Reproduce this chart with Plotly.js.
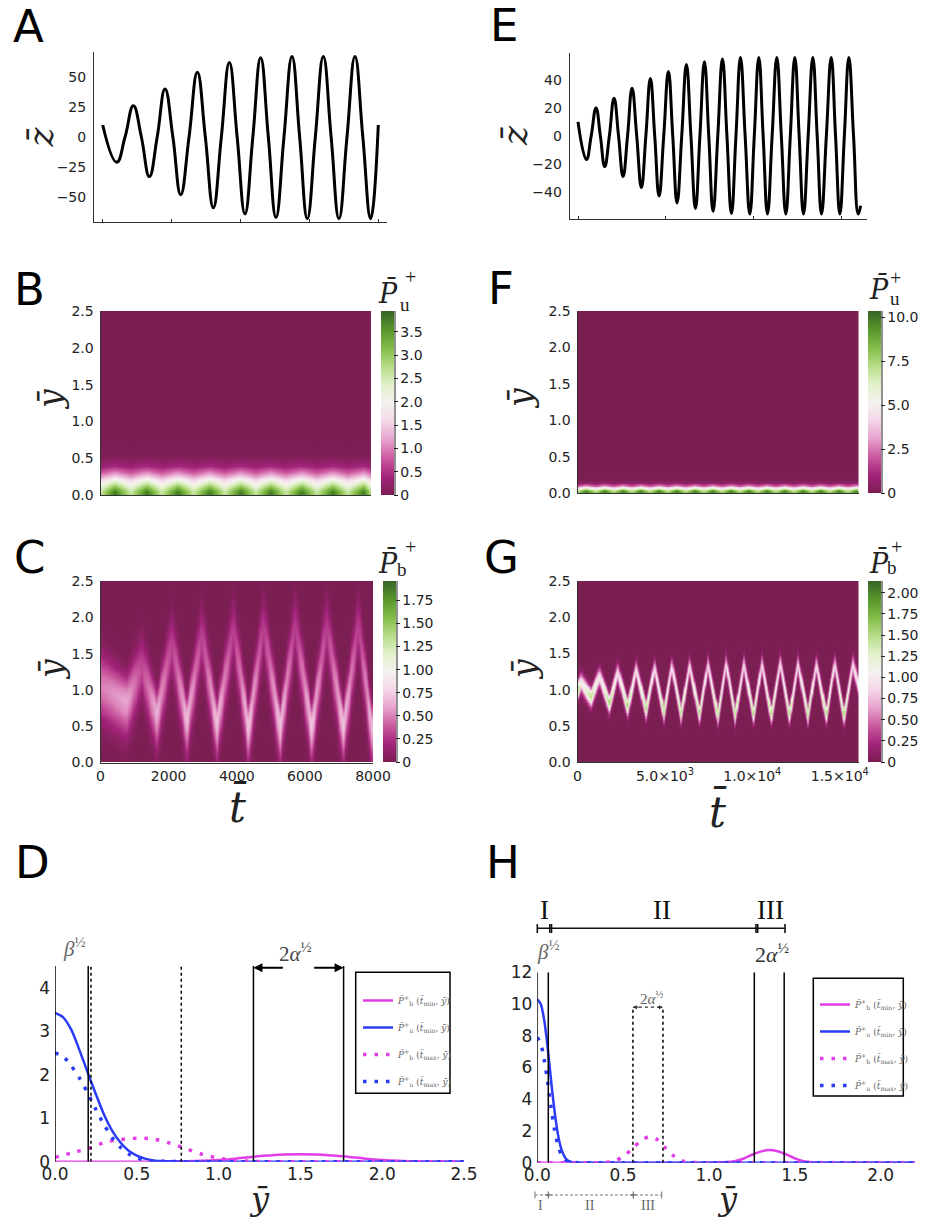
<!DOCTYPE html>
<html><head><meta charset="utf-8">
<script src="https://cdn.plot.ly/plotly-3.0.1.min.js"></script>
<style>html,body{margin:0;padding:0;background:#fff}#fig{width:936px;height:1220px}</style>
</head><body><div id="fig"></div>
<script>
const SANS = 'DejaVu Sans, Arial, sans-serif';
const SERIF = 'Liberation Serif, DejaVu Serif, serif';
const MATH = 'DejaVu Serif, serif';

// ---------- Panel A : z(t), extrema and zero crossings
const tA = [0,406,648,890,1122,1354,1582,1809,2037,2264,2506,2747,2979,3211,3444,3676,3903,4130,4358,4585,4808,5030,5262,5494,5717,5939,6172,6404,6631,6858,7091,7323,7551,7778,8000];
const zA = [10,-21,0,26,0,-33,0,40,0,-48,0,54,0,-59,0,62,0,-64,0,66,0,-67,0,67,0,-68,0,67,0,-68,0,67,0,-68,10];
const zTicksA = [-50,-25,0,25,50];
const zTickTextA = ['\u221250','\u221225','0','25','50'];

// ---------- Panel E
const tE = [0,475,751,1027,1274,1521,1787,2053,2310,2567,2823,3080,3346,3612,3868,4125,4372,4620,4886,5152,5399,5646,5912,6179,6435,6692,6948,7205,7452,7700,7966,8232,8488,8745,9002,9259,9525,9791,10047,10304,10551,10798,11064,11331,11587,11844,12100,12357,12604,12852,13118,13384,13631,13878,14154,14430,14677,14924,15180,15437,15703,15970,16103];
const zE = [10,-17,0,20,0,-22,0,27,0,-29,0,34,0,-37,0,41,0,-43,0,46,0,-48,0,51,0,-52,0,53,0,-54,0,55,0,-55.5,0,56,0,-56,0,56,0,-56,0,56,0,-56,0,56,0,-56,0,56,0,-56,0,56,0,-56,0,56,0,-56,-50];
const zTicksE = [-40,-20,0,20,40];
const zTickTextE = ['\u221240','\u221220','0','20','40'];

// ---------- Panel B : P_u heatmap (blob columns / gap columns, vertical profiles)
const tBlobB = [406,1354,2264,3211,4130,5030,5939,6858,7778];
const tGapB  = [0,880,1809,2737,3670,4580,5485,6400,7318,8000];
const yProfB = [0,0.05,0.1,0.15,0.2,0.25,0.3,0.35,0.4,0.45,0.5,0.55,0.6,0.7,0.8,2.5];
const blobProfB = [3.85,3.7,3.3,2.75,2.2,1.65,1.15,0.75,0.45,0.26,0.14,0.07,0.03,0.01,0,0];
const gapProfB  = [2.65,2.55,2.3,1.95,1.6,1.2,0.82,0.52,0.31,0.17,0.09,0.04,0.02,0.005,0,0];
const zmaxB = 3.95;
const cbTicksB = [0,0.5,1,1.5,2,2.5,3,3.5];
const cbTextB = ['0','0.5','1.0','1.5','2.0','2.5','3.0','3.5'];

// ---------- Panel F
const tBlobF = [475,1521,2567,3612,4620,5646,6692,7700,8745,9791,10798,11844,12852,13878,14924,15970];
const tGapF  = [0,1027,2053,3080,4125,5152,6179,7205,8232,9259,10304,11331,12357,13384,14430,15437,16100];
const yProfF = [0,0.02,0.04,0.06,0.08,0.1,0.12,0.14,0.16,0.18,0.2,0.25,2.5];
const blobProfF = [10.3,10.0,9.0,7.3,5.2,3.3,1.8,0.85,0.35,0.12,0.04,0,0];
const gapProfF  = [7.9,7.5,6.5,5.1,3.5,2.1,1.1,0.5,0.2,0.07,0.02,0,0];
const zmaxF = 10.35;
const cbTicksF = [0,2.5,5,7.5,10];
const cbTextF = ['0','2.5','5.0','7.5','10.0'];

// ---------- Panel C : P_b ridge (zig-zag vertices)
const tVertC   = [0,763,1203,1643,2083,2523,2963,3403,3892,4332,4773,5262,5702,6191,6631,7120,7560,7951,8000];
const yVertC   = [1.05,0.85,1.3,0.68,1.62,0.6,1.72,0.55,1.8,0.5,1.85,0.5,1.85,0.5,1.85,0.5,1.85,0.5,0.55];
const ampVertC = [0.5,0.62,0.33,0.66,0.3,0.7,0.3,0.72,0.28,0.74,0.28,0.74,0.28,0.74,0.28,0.74,0.28,0.7,0.68];
const wDownC   = [0.3,0.32,0.25,0.32,0.25,0.32,0.25,0.32,0.25,0.32,0.25,0.32,0.25,0.32,0.25,0.32,0.25,0.32,0.3];
const wUpC     = [0.3,0.22,0.3,0.18,0.3,0.18,0.3,0.18,0.3,0.18,0.3,0.18,0.3,0.18,0.3,0.18,0.3,0.18,0.2];
const zmaxC = 1.96;
const cbTicksC = [0,0.25,0.5,0.75,1,1.25,1.5,1.75];
const cbTextC = ['0','0.25','0.50','0.75','1.00','1.25','1.50','1.75'];

// ---------- Panel G
const tVertG   = [0,191,763,1240,1813,2290,2863,3340,3912,4389,4924,5382,5916,6393,6966,7443,8015,8492,9008,9504,10057,10534,11069,11584,12118,12595,13168,13645,14218,14695,15229,15744,16100];
const yVertG   = [1.0,1.1,0.9,1.18,0.82,1.24,0.76,1.28,0.72,1.3,0.69,1.32,0.67,1.33,0.66,1.34,0.65,1.35,0.65,1.35,0.65,1.35,0.65,1.35,0.65,1.35,0.65,1.35,0.65,1.35,0.65,1.35,1.0];
const ampVertG = [1.7,1.0,1.55,0.95,1.6,0.9,1.6,0.9,1.6,0.88,1.6,0.88,1.6,0.88,1.6,0.88,1.6,0.88,1.6,0.88,1.6,0.88,1.6,0.88,1.6,0.88,1.6,0.88,1.6,0.88,1.6,0.88,1.2];
const wDownG   = [0.08,0.08,0.09,0.08,0.09,0.08,0.09,0.08,0.09,0.08,0.09,0.08,0.09,0.08,0.09,0.08,0.09,0.08,0.09,0.08,0.09,0.08,0.09,0.08,0.09,0.08,0.09,0.08,0.09,0.08,0.09,0.08,0.08];
const wUpG     = [0.08,0.09,0.07,0.09,0.07,0.09,0.07,0.09,0.07,0.09,0.07,0.09,0.07,0.09,0.07,0.09,0.07,0.09,0.07,0.09,0.07,0.09,0.07,0.09,0.07,0.09,0.07,0.09,0.07,0.09,0.07,0.09,0.08];
const zmaxG = 2.14;
const cbTicksG = [0,0.25,0.5,0.75,1,1.25,1.5,1.75,2];
const cbTextG = ['0','0.25','0.50','0.75','1.00','1.25','1.50','1.75','2.00'];

// cross-section shape of the ridge (offset in widths -> relative value)
const profOff = [0,0.5,1,1.5,2,2.5,3,4];
const profVal = [1,0.88,0.61,0.32,0.14,0.044,0.011,0];

// ---------- Panel D profiles
const xPuMinD = [0,0.05,0.1,0.15,0.2,0.25,0.3,0.35,0.4,0.45,0.5,0.55,0.6,0.7,0.8,1.0,1.5,2.0,2.5];
const PuMinD  = [3.42,3.32,3.03,2.56,2.05,1.55,1.08,0.71,0.44,0.25,0.14,0.07,0.03,0.01,0,0,0,0,0];
const xPuMaxD = [0,0.05,0.1,0.15,0.2,0.25,0.3,0.35,0.4,0.45,0.5,0.55,0.6,0.7,0.8,1.0,1.5,2.0,2.5];
const PuMaxD  = [2.5,2.42,2.2,1.92,1.58,1.2,0.85,0.55,0.33,0.18,0.09,0.04,0.02,0.005,0,0,0,0,0];
const xPbMaxD = [0,0.1,0.2,0.3,0.4,0.5,0.6,0.7,0.8,0.9,1.0,1.1,1.2,1.3,1.5,2.0,2.5];
const PbMaxD  = [0.1,0.2,0.3,0.44,0.51,0.54,0.52,0.43,0.3,0.17,0.08,0.03,0.01,0,0,0,0];
const xPbMinD = [0,0.5,0.7,0.8,0.9,1.0,1.1,1.2,1.3,1.4,1.5,1.6,1.7,1.8,1.9,2.0,2.1,2.2,2.3,2.5];
const PbMinD  = [0,0,0.005,0.01,0.02,0.04,0.07,0.11,0.14,0.165,0.17,0.165,0.14,0.11,0.07,0.04,0.02,0.01,0,0];
const solidLinesD = [0,0.203,1.213,1.764];
const dottedLinesD = [0.22,0.772];

// ---------- Panel H profiles
const xPuH = [0,0.02,0.04,0.06,0.08,0.1,0.12,0.14,0.16,0.18,0.2,0.25,0.5,1,1.5,2.2];
const PuMinH = [10.3,10.0,9.0,7.3,5.2,3.3,1.8,0.85,0.35,0.12,0.04,0,0,0,0,0];
const PuMaxH = [7.9,7.5,6.5,5.1,3.5,2.1,1.1,0.5,0.2,0.07,0.02,0,0,0,0,0];
const xPbMaxH = [0,0.3,0.4,0.45,0.5,0.55,0.6,0.65,0.7,0.75,0.8,0.85,0.9,1.0,1.5,2.2];
const PbMaxH  = [0,0,0.02,0.12,0.38,0.85,1.35,1.63,1.45,0.9,0.38,0.1,0.02,0,0,0];
const xPbMinH = [0,1.0,1.1,1.15,1.2,1.25,1.3,1.35,1.4,1.45,1.5,1.55,1.6,1.7,2.2];
const PbMinH  = [0,0,0.04,0.1,0.25,0.5,0.7,0.8,0.72,0.52,0.27,0.1,0.03,0,0];
const solidLinesH = [0,0.064,1.264,1.438];
const dottedLinesH = [0.557,0.732];

// ================= helpers =================
const W = 936, H = 1220;
const px = x => x / W;
const py = y => 1 - y / H;
function lerp(xs, vs, x) {
  if (x <= xs[0]) return vs[0];
  for (let i = 1; i < xs.length; i++) {
    if (x <= xs[i]) { const f = (x - xs[i-1]) / (xs[i] - xs[i-1]); return vs[i-1] + f * (vs[i] - vs[i-1]); }
  }
  return vs[vs.length - 1];
}
function columnTable(tBlob, tGap, yProf, blobProf, gapProf) {
  const cols = tBlob.map(t => [t, blobProf]).concat(tGap.map(t => [t, gapProf])).sort((a, b) => a[0] - b[0]);
  const x = cols.map(c => c[0]);
  const z = yProf.map((_, j) => cols.map(c => c[1][j]));
  return {x, y: yProf, z};
}
function ridgeTable(tEnd, dt, dy, tV, yV, aV, wD, wU) {
  const x = [], y = [];
  for (let t = 0; t <= tEnd + 1e-9; t += dt) x.push(t);
  for (let v = 0; v <= 2.5 + 1e-9; v += dy) y.push(+v.toFixed(4));
  const c = x.map(t => lerp(tV, yV, t)), a = x.map(t => lerp(tV, aV, t));
  const wd = x.map(t => lerp(tV, wD, t)), wu = x.map(t => lerp(tV, wU, t));
  const z = y.map(yy => x.map((t, i) => {
    const d = Math.abs(yy - c[i]) / (yy < c[i] ? wd[i] : wu[i]);
    return a[i] * lerp(profOff, profVal, d);
  }));
  return {x, y, z};
}
const piyg = [[0,'#7b1e52'],[0.1,'#a3247b'],[0.2,'#cb5a9f'],[0.3,'#e6a2cc'],[0.4,'#f5d7e9'],[0.5,'#f4f2ee'],[0.6,'#e1f0c9'],[0.7,'#b6dc86'],[0.8,'#82bc48'],[0.9,'#57952b'],[1,'#376428']];

const tickFont = {family: SANS, size: 14, color: '#222'};
const base = {showgrid: false, zeroline: false, fixedrange: true, tickfont: tickFont};

function cbar(left, top, bottom, ticks, text) {
  return {x: px(left), xanchor: 'left', y: py(bottom), yanchor: 'bottom', len: (bottom - top) / H, lenmode: 'fraction',
    thickness: 13, thicknessmode: 'pixels', outlinewidth: 0, xpad: 0, ypad: 0, ticks: 'outside', ticklen: 4,
    tickcolor: '#222', tickwidth: 1, tickvals: ticks, ticktext: text, tickfont: tickFont};
}

const magenta = '#e03ee6', blue = '#2a3cf4';
const traces = [];
traces.push({type: 'scatter', mode: 'lines', x: tA, y: zA, xaxis: 'x', yaxis: 'y', line: {color: '#000', width: 3, shape: 'spline', smoothing: 1.3}, showlegend: false, hoverinfo: 'skip'});
traces.push({type: 'scatter', mode: 'lines', x: tE, y: zE, xaxis: 'x5', yaxis: 'y5', line: {color: '#000', width: 3, shape: 'spline', smoothing: 1.3}, showlegend: false, hoverinfo: 'skip'});

const hB = columnTable(tBlobB, tGapB, yProfB, blobProfB, gapProfB);
traces.push({type: 'heatmap', x: hB.x, y: hB.y, z: hB.z, zsmooth: 'best', colorscale: piyg, zmin: 0, zmax: zmaxB, xaxis: 'x2', yaxis: 'y2', colorbar: cbar(381, 311, 495, cbTicksB, cbTextB), hoverinfo: 'skip'});
const hF = columnTable(tBlobF, tGapF, yProfF, blobProfF, gapProfF);
traces.push({type: 'heatmap', x: hF.x, y: hF.y, z: hF.z, zsmooth: 'best', colorscale: piyg, zmin: 0, zmax: zmaxF, xaxis: 'x6', yaxis: 'y6', colorbar: cbar(868, 311, 493, cbTicksF, cbTextF), hoverinfo: 'skip'});
const hC = ridgeTable(8000, 25, 0.02, tVertC, yVertC, ampVertC, wDownC, wUpC);
traces.push({type: 'heatmap', x: hC.x, y: hC.y, z: hC.z, zsmooth: 'best', colorscale: piyg, zmin: 0, zmax: zmaxC, xaxis: 'x3', yaxis: 'y3', colorbar: cbar(383, 581, 762, cbTicksC, cbTextC), hoverinfo: 'skip'});
const hG = ridgeTable(16100, 30, 0.01, tVertG, yVertG, ampVertG, wDownG, wUpG);
traces.push({type: 'heatmap', x: hG.x, y: hG.y, z: hG.z, zsmooth: 'best', colorscale: piyg, zmin: 0, zmax: zmaxG, xaxis: 'x7', yaxis: 'y7', colorbar: cbar(868, 581, 762, cbTicksG, cbTextG), hoverinfo: 'skip'});

const nm = (s, t) => '<i>P\u0304</i><sup>+</sup><sub>' + s + '</sub> (<i>t\u0304</i><sub>' + t + '</sub>, <i>y\u0304</i>)';
function profTraces(xa, ya, lg, d) {
  return [
    {x: d[0][0], y: d[0][1], name: nm('b', 'min'), line: {color: magenta, width: 2.5, shape: 'spline', smoothing: 0.8}},
    {x: d[1][0], y: d[1][1], name: nm('u', 'min'), line: {color: blue, width: 2.5, shape: 'spline', smoothing: 0.8}},
    {x: d[2][0], y: d[2][1], name: nm('b', 'max'), line: {color: magenta, width: 3.5, dash: '3.5px,8px', shape: 'spline', smoothing: 0.8}},
    {x: d[3][0], y: d[3][1], name: nm('u', 'max'), line: {color: blue, width: 3.5, dash: '3.5px,8px', shape: 'spline', smoothing: 0.8}}
  ].map((t, i) => Object.assign(t, {type: 'scatter', mode: 'lines', xaxis: xa, yaxis: ya, legend: lg, legendgroup: lg + i, hoverinfo: 'skip'}));
}
profTraces('x4', 'y4', 'legend', [[xPbMinD, PbMinD], [xPuMinD, PuMinD], [xPbMaxD, PbMaxD], [xPuMaxD, PuMaxD]]).forEach(t => traces.push(t));
profTraces('x8', 'y8', 'legend2', [[xPbMinH, PbMinH], [xPuH, PuMinH], [xPbMaxH, PbMaxH], [xPuH, PuMaxH]]).forEach(t => traces.push(t));

// ================= layout =================
const layout = {
  width: W, height: H, margin: {l: 0, r: 0, t: 0, b: 0}, paper_bgcolor: '#fff', plot_bgcolor: 'rgba(0,0,0,0)',
  font: {family: SANS, color: '#222'}, showlegend: true,
  xaxis: Object.assign({}, base, {domain: [px(94.3), px(386.7)], range: [-244, 8244], anchor: 'y', showline: true, linecolor: '#333', linewidth: 1.3, ticks: 'inside', ticklen: 3, tickcolor: '#333', tickvals: [0, 2000, 4000, 6000, 8000], showticklabels: false}),
  yaxis: Object.assign({}, base, {domain: [py(222), py(52)], range: [-70.8, 70.8], anchor: 'x', showline: true, linecolor: '#333', linewidth: 1.3, ticks: '', tickvals: zTicksA, ticktext: zTickTextA, ticklabelstandoff: 4}),
  xaxis5: Object.assign({}, base, {domain: [px(570), px(867)], range: [-456, 16470], anchor: 'y5', showline: true, linecolor: '#333', linewidth: 1.3, ticks: 'inside', ticklen: 3, tickcolor: '#333', tickvals: [0, 5000, 10000, 15000], showticklabels: false}),
  yaxis5: Object.assign({}, base, {domain: [py(219), py(53)], range: [-59.5, 59.3], anchor: 'x5', showline: true, linecolor: '#333', linewidth: 1.3, ticks: '', tickvals: zTicksE, ticktext: zTickTextE, ticklabelstandoff: 4}),
  xaxis2: Object.assign({}, base, {domain: [px(100.5), px(371)], range: [0, 8000], anchor: 'y2', showline: true, linecolor: '#333', linewidth: 1, ticks: '', showticklabels: false}),
  yaxis2: Object.assign({}, base, {domain: [py(495), py(311)], range: [0, 2.5], anchor: 'x2', showline: true, linecolor: '#333', linewidth: 1, ticks: '', tickvals: [0, 0.5, 1, 1.5, 2, 2.5], ticktext: ['0.0', '0.5', '1.0', '1.5', '2.0', '2.5'], ticklabelstandoff: 3}),
  xaxis6: Object.assign({}, base, {domain: [px(577.5), px(859)], range: [0, 16100], anchor: 'y6', showline: true, linecolor: '#333', linewidth: 1, ticks: '', showticklabels: false}),
  yaxis6: Object.assign({}, base, {domain: [py(493), py(311)], range: [0, 2.5], anchor: 'x6', showline: true, linecolor: '#333', linewidth: 1, ticks: '', tickvals: [0, 0.5, 1, 1.5, 2, 2.5], ticktext: ['0.0', '0.5', '1.0', '1.5', '2.0', '2.5'], ticklabelstandoff: 3}),
  xaxis3: Object.assign({}, base, {domain: [px(100.5), px(373)], range: [0, 8000], anchor: 'y3', showline: true, linecolor: '#333', linewidth: 1, ticks: '', tickvals: [0, 2000, 4000, 6000, 8000], ticktext: ['0', '2000', '4000', '6000', '8000'], ticklabelstandoff: 1}),
  yaxis3: Object.assign({}, base, {domain: [py(762.5), py(581)], range: [0, 2.5], anchor: 'x3', showline: true, linecolor: '#333', linewidth: 1, ticks: '', tickvals: [0, 0.5, 1, 1.5, 2, 2.5], ticktext: ['0.0', '0.5', '1.0', '1.5', '2.0', '2.5'], ticklabelstandoff: 3}),
  xaxis7: Object.assign({}, base, {domain: [px(577.5), px(859)], range: [0, 16100], anchor: 'y7', showline: true, linecolor: '#333', linewidth: 1, ticks: '', tickvals: [0, 5000, 10000, 15000], ticktext: ['0', '5.0\u00d710<sup>3</sup>', '1.0\u00d710<sup>4</sup>', '1.5\u00d710<sup>4</sup>'], ticklabelstandoff: 1}),
  yaxis7: Object.assign({}, base, {domain: [py(762), py(581)], range: [0, 2.5], anchor: 'x7', showline: true, linecolor: '#333', linewidth: 1, ticks: '', tickvals: [0, 0.5, 1, 1.5, 2, 2.5], ticktext: ['0.0', '0.5', '1.0', '1.5', '2.0', '2.5'], ticklabelstandoff: 3}),
  xaxis4: Object.assign({}, base, {domain: [px(55), px(464)], range: [0, 2.5], anchor: 'y4', showline: false, ticks: '', tickvals: [0, 0.5, 1, 1.5, 2, 2.5], ticktext: ['0.0', '0.5', '1.0', '1.5', '2.0', '2.5'], tickfont: {family: SANS, size: 17, color: '#222'}, ticklabelstandoff: 0}),
  yaxis4: Object.assign({}, base, {domain: [py(1161.7), py(966)], range: [0, 4.5], anchor: 'x4', showline: false, ticks: '', tickvals: [0, 1, 2, 3, 4], ticktext: ['0', '1', '2', '3', '4'], tickfont: {family: SANS, size: 17, color: '#222'}, ticklabelstandoff: 4}),
  xaxis8: Object.assign({}, base, {domain: [px(537.3), px(915)], range: [0, 2.2], anchor: 'y8', showline: false, ticks: '', tickvals: [0, 0.5, 1, 1.5, 2], ticktext: ['0.0', '0.5', '1.0', '1.5', '2.0'], tickfont: {family: SANS, size: 17, color: '#222'}, ticklabelstandoff: 0}),
  yaxis8: Object.assign({}, base, {domain: [py(1162.7), py(972.3)], range: [0, 12], anchor: 'x8', showline: false, ticks: '', tickvals: [0, 2, 4, 6, 8, 10, 12], ticktext: ['0', '2', '4', '6', '8', '10', '12'], tickfont: {family: SANS, size: 17, color: '#222'}, ticklabelstandoff: 4}),
  legend: {x: px(358), y: py(986), xanchor: 'left', yanchor: 'top', bgcolor: 'rgba(0,0,0,0)', borderwidth: 0, font: {family: MATH, size: 9, color: '#666'}, traceorder: 'grouped', tracegroupgap: 8, itemwidth: 30},
  legend2: {x: px(815), y: py(990), xanchor: 'left', yanchor: 'top', bgcolor: 'rgba(0,0,0,0)', borderwidth: 0, font: {family: MATH, size: 9, color: '#666'}, traceorder: 'grouped', tracegroupgap: 8, itemwidth: 30},
  shapes: [], annotations: []
};

const S = layout.shapes, A = layout.annotations;
// colorbar axis lines
[[395, 311, 495], [882, 311, 493], [397, 581, 762], [882, 581, 762]].forEach(c =>
  S.push({type: 'line', xref: 'paper', yref: 'paper', x0: px(c[0]), x1: px(c[0]), y0: py(c[1]), y1: py(c[2]), line: {color: '#222', width: 1}}));
// reference lines D
solidLinesD.forEach(v => S.push({type: 'line', xref: 'x4', yref: 'y4', x0: v, x1: v, y0: 0, y1: 4.5, line: {color: '#000', width: 1.5}}));
dottedLinesD.forEach(v => S.push({type: 'line', xref: 'x4', yref: 'y4', x0: v, x1: v, y0: 0, y1: 4.5, line: {color: '#000', width: 1.5, dash: 'dot'}}));
// reference lines H
solidLinesH.forEach(v => S.push({type: 'line', xref: 'x8', yref: 'y8', x0: v, x1: v, y0: 0, y1: 12, line: {color: '#000', width: 1.5}}));
dottedLinesH.forEach(v => S.push({type: 'line', xref: 'x8', yref: 'y8', x0: v, x1: v, y0: 0, y1: 9.8, line: {color: '#000', width: 1.5, dash: 'dot'}}));
S.push({type: 'line', xref: 'x8', yref: 'y8', x0: 0.557, x1: 0.732, y0: 9.8, y1: 9.8, line: {color: '#333', width: 1.2, dash: 'dot'}});
// legend boxes
S.push({type: 'rect', xref: 'paper', yref: 'paper', x0: px(355.7), x1: px(450), y0: py(972.3), y1: py(1093.3), line: {color: '#000', width: 1.5}});
S.push({type: 'rect', xref: 'paper', yref: 'paper', x0: px(813.3), x1: px(903.3), y0: py(978.3), y1: py(1096), line: {color: '#000', width: 1.5}});
// top bracket in H
const pl = (x0, y0, x1, y1, col, w, dash) => S.push({type: 'line', xref: 'paper', yref: 'paper', x0: px(x0), x1: px(x1), y0: py(y0), y1: py(y1), line: {color: col, width: w, dash: dash || 'solid'}});
pl(537.3, 928.3, 785, 928.3, '#111', 1.6);
[537.3, 549.8, 551.5, 756, 757.7, 785].forEach(x => pl(x, 924, x, 933, '#111', 1.6));
// bottom bracket in H
pl(535, 1195, 661.7, 1195, '#777', 1, '3px,2px');
[535, 661.7].forEach(x => pl(x, 1191.5, x, 1198.5, '#777', 1));
[548.3, 633.3].forEach(x => { pl(x, 1191.5, x, 1198.5, '#555', 1); pl(x - 3, 1195, x + 3, 1195, '#555', 1); });

// arrows
const arrow = (xr, yr, x, y, axv, ayv, col, w, both, size) => A.push({xref: xr, yref: yr, axref: xr, ayref: yr, x: x, y: y, ax: axv, ay: ayv, text: '', showarrow: true, arrowhead: 2, arrowsize: size || 1, arrowwidth: w, arrowcolor: col, arrowside: both ? 'end+start' : 'end', standoff: 0, startstandoff: 0});
arrow('x4', 'y4', 0, 4.56, 0.203, 4.56, '#555', 1, true, 0.9);
arrow('x4', 'y4', 1.213, 4.46, 1.402, 4.46, '#000', 1.8, false, 1);
arrow('x4', 'y4', 1.764, 4.46, 1.575, 4.46, '#000', 1.8, false, 1);
arrow('x8', 'y8', 0, 12.3, 0.064, 12.3, '#555', 1, true, 0.8);
arrow('x8', 'y8', 1.264, 12.36, 1.438, 12.36, '#000', 2, true, 0.9);
arrow('x8', 'y8', 0.557, 9.8, 0.6, 9.8, '#333', 1, false, 0.8);
arrow('x8', 'y8', 0.732, 9.8, 0.69, 9.8, '#333', 1, false, 0.8);

// text helpers
const T = (text, x, y, size, fam, col, angle, xa) => A.push({xref: 'paper', yref: 'paper', x: px(x), y: py(y), text: text, showarrow: false, xanchor: xa || 'center', yanchor: 'middle', textangle: angle || 0, font: {family: fam, size: size, color: col || '#111'}});
// panel letters
[['A', 28.8, 27], ['E', 503.5, 25.5], ['B', 30, 289.5], ['F', 500.5, 289], ['C', 30, 557], ['G', 501, 557], ['D', 32, 862.5], ['H', 502.5, 862.5]].forEach(l => T(l[0], l[1], l[2], 45, SANS, '#000'));
// axis titles
T('<i>z\u0304</i>', 40, 137.5, 36, MATH, '#222', -90);
T('<i>z\u0304</i>', 515, 136, 36, MATH, '#222', -90);
T('<i>y\u0304</i>', 51, 400, 33, MATH, '#222', -90);
T('<i>y\u0304</i>', 521, 399, 33, MATH, '#222', -90);
T('<i>y\u0304</i>', 51, 670, 33, MATH, '#222', -90);
T('<i>y\u0304</i>', 524, 670, 33, MATH, '#222', -90);
T('<i>t\u0304</i>', 238, 806, 42, MATH, '#222');
T('<i>t\u0304</i>', 718, 811, 42, MATH, '#222');
T('<i>y\u0304</i>', 259, 1199, 32, MATH, '#222');
T('<i>y\u0304</i>', 727, 1199, 32, MATH, '#222');
// colorbar titles
[[388, 292, 410, 277, 405, 304, 'u'], [879, 289, 895.5, 277.5, 895, 298.5, 'u'], [388, 562, 410, 547, 402, 569, 'b'], [879, 562, 896, 547, 892, 567, 'b']].forEach(c => {
  T('<i>P\u0304</i>', c[0], c[1], 27, MATH, '#222');
  T('+', c[2], c[3], 20, SERIF, '#222');
  T(c[6], c[4], c[5], 19, SERIF, '#222');
});
// annotations in D and H
T('<i>\u03b2</i><sup>\u00bd</sup>', 74, 947, 21, SERIF, '#666');
T('2<i>\u03b1</i><sup>\u00bd</sup>', 295, 953, 21, SERIF, '#444');
T('<i>\u03b2</i><sup>\u00bd</sup>', 548, 950, 21, SERIF, '#666');
T('2<i>\u03b1</i><sup>\u00bd</sup>', 772, 953, 22, SERIF, '#333');
T('2<i>\u03b1</i><sup>\u00bd</sup>', 651, 998, 15, SERIF, '#666');
T('I', 544, 910, 27, SERIF, '#111');
T('II', 661.7, 910, 27, SERIF, '#111');
T('III', 770, 910, 27, SERIF, '#111');
T('I', 540.7, 1205, 14, SERIF, '#666');
T('II', 590, 1205, 14, SERIF, '#666');
T('III', 648.3, 1205, 14, SERIF, '#666');

Plotly.newPlot('fig', traces, layout, {displayModeBar: false, staticPlot: true});
</script></body></html>
